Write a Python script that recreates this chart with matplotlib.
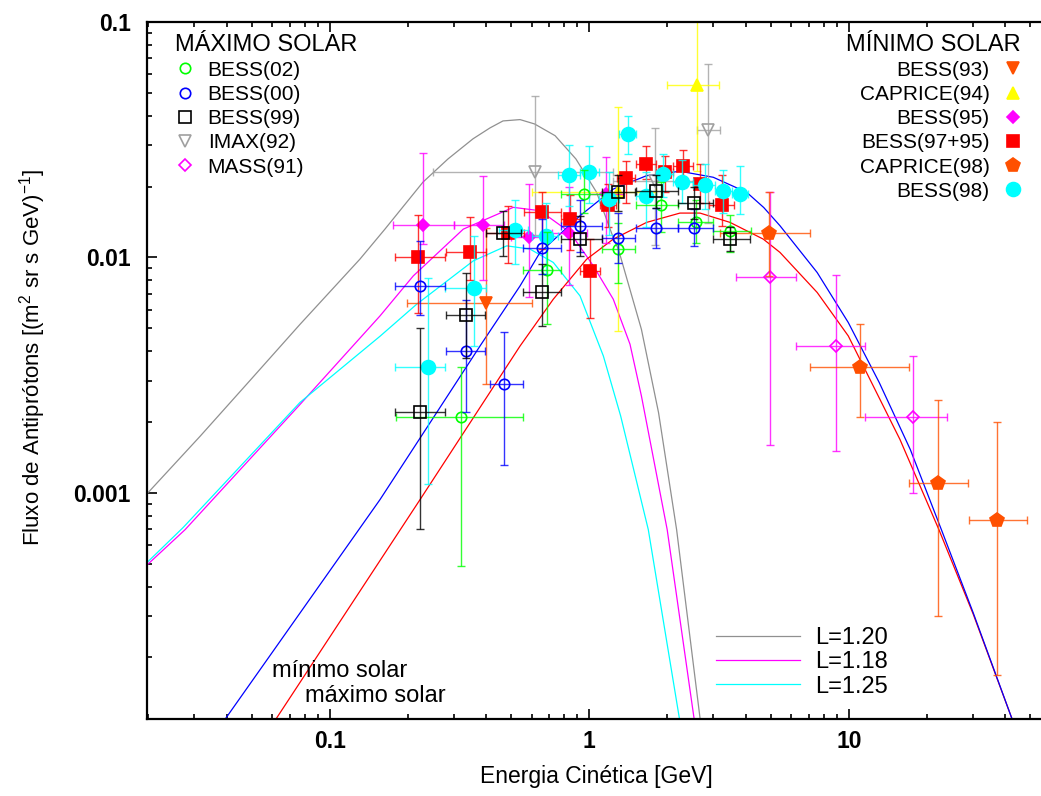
import numpy as np
import matplotlib
matplotlib.use('Agg')
import matplotlib.pyplot as plt
from matplotlib.lines import Line2D
from matplotlib.ticker import LogLocator, NullFormatter

plt.rcParams['font.family'] = ['Liberation Sans', 'DejaVu Sans']
plt.rcParams['mathtext.fontset'] = 'custom'
plt.rcParams['mathtext.rm'] = 'Liberation Sans'
plt.rcParams['mathtext.it'] = 'Liberation Sans:italic'

W, H = 1041, 796

# ---- model curves (E in GeV, flux) ----
l120_E = [0.0199, 0.0316, 0.0493, 0.0768, 0.1307, 0.1632, 0.2287, 0.2854, 0.3563, 0.4144, 0.465,
          0.541, 0.615, 0.738, 0.888, 1.067, 1.243, 1.294, 1.588, 1.849, 2.17, 2.671, 2.72]
l120_F = [0.00100, 0.001737, 0.003005, 0.0052, 0.00984, 0.0132, 0.0209, 0.0262, 0.0319, 0.0355, 0.0380,
          0.0385, 0.0369, 0.0329, 0.0262, 0.0189, 0.01196, 0.01085, 0.00495, 0.00219, 0.000698,
          0.0001106, 0.000094]

l118_E = [0.0198, 0.0277, 0.0768, 0.1561, 0.2098, 0.3269, 0.5095, 0.6457, 0.8425, 1.036, 1.237,
          1.435, 1.588, 1.996, 2.532, 2.577]
l118_F = [0.000495, 0.000698, 0.002375, 0.005643, 0.008349, 0.01319, 0.01632, 0.01579, 0.01278, 0.00921,
          0.006647, 0.00428, 0.00258, 0.000698, 0.0001106, 0.000094]

l125_E = [0.0198, 0.0272, 0.0768, 0.1561, 0.2162, 0.3573, 0.4806, 0.5907, 0.7266, 0.921, 1.133,
          1.321, 1.688, 2.223, 2.256]
l125_F = [0.000507, 0.000712, 0.002423, 0.004625, 0.006328, 0.00967, 0.0112, 0.01085, 0.00952, 0.006864,
          0.003813, 0.00212, 0.000698, 0.0001106, 0.000094]

min_E = [0.0358, 0.0398, 0.1561, 0.3792, 0.541, 0.6457, 0.921, 1.237, 1.664, 2.236, 3.005, 4.043,
         4.7, 5.432, 7.553, 9.956, 13.11, 17.26, 22.74, 30.18, 42.44, 44.5]
min_F = [0.000094, 0.0001106, 0.000936, 0.004205, 0.007568, 0.0105, 0.01503, 0.01952, 0.02225, 0.02323,
         0.0219, 0.0189, 0.0163, 0.01363, 0.00863, 0.00529, 0.002938, 0.001528, 0.000698, 0.000309,
         0.0001106, 0.000094]

max_E = [0.0565, 0.0624, 0.2227, 0.541, 0.7266, 0.977, 1.237, 1.664, 2.236, 2.671, 3.485, 4.683,
         5.432, 7.553, 9.956, 15.75, 22.25, 30.18, 42.44, 44.5]
max_F = [0.000094, 0.0001106, 0.000936, 0.004205, 0.006647, 0.00983, 0.01196, 0.01409, 0.01543, 0.01543,
         0.01409, 0.01196, 0.0105, 0.0071, 0.00464, 0.001685, 0.000698, 0.000305, 0.0001106, 0.000094]

# ---- solar maximum data ----
bess02_E = [0.32, 0.69, 0.955, 1.29, 1.89, 2.57, 3.48]
bess02_F = [0.0021, 0.0088, 0.0186, 0.0109, 0.0167, 0.0142, 0.0129]
bess02_Elo = [0.18, 0.556, 0.78, 1.12, 1.52, 2.2, 3.0]
bess02_Ehi = [0.557, 0.78, 1.12, 1.5, 2.2, 3.0, 4.2]
bess02_Flo = [0.00049, 0.0052, 0.0155, 0.0078, 0.0128, 0.0115, 0.0105]
bess02_Fhi = [0.00344, 0.0128, 0.0235, 0.014, 0.021, 0.0175, 0.0152]

bess00_E = [0.222, 0.334, 0.47, 0.66, 0.92, 1.29, 1.81, 2.53]
bess00_F = [0.00753, 0.00401, 0.00291, 0.0110, 0.0136, 0.0121, 0.0134, 0.0134]
bess00_Elo = [0.179, 0.28, 0.414, 0.557, 0.78, 1.12, 1.52, 2.2]
bess00_Ehi = [0.279, 0.398, 0.557, 0.78, 1.12, 1.5, 2.2, 3.0]
bess00_Flo = [0.0057, 0.00221, 0.00131, 0.0085, 0.0105, 0.0095, 0.011, 0.0112]
bess00_Fhi = [0.0117, 0.0066, 0.0048, 0.0145, 0.0175, 0.0155, 0.0162, 0.016]

bess99_E = [0.222, 0.334, 0.466, 0.66, 0.92, 1.29, 1.81, 2.53, 3.5]
bess99_F = [0.0022, 0.0057, 0.01265, 0.0071, 0.0120, 0.0189, 0.0191, 0.017, 0.012]
bess99_Elo = [0.179, 0.28, 0.40, 0.557, 0.78, 1.12, 1.52, 2.2, 3.0]
bess99_Ehi = [0.279, 0.398, 0.545, 0.78, 1.12, 1.5, 2.2, 3.0, 4.17]
bess99_Flo = [0.0007, 0.00373, 0.0101, 0.0051, 0.0101, 0.0158, 0.0162, 0.0145, 0.0106]
bess99_Fhi = [0.005, 0.0086, 0.0158, 0.0094, 0.015, 0.0225, 0.0225, 0.02, 0.0135]

imax_E = [0.618, 1.79, 2.87]
imax_F = [0.023, 0.0212, 0.0349]
imax_Elo = [0.249, 1.23, 2.6]
imax_Ehi = [1.23, 2.6, 3.18]
imax_Flo = [0.0125, 0.0113, 0.014]
imax_Fhi = [0.0487, 0.0354, 0.0664]

mass_E = [4.97, 8.89, 17.7]
mass_F = [0.00822, 0.00422, 0.0021]
mass_Elo = [3.69, 6.27, 11.5]
mass_Ehi = [6.25, 11.5, 23.9]
mass_Flo = [0.0016, 0.0015, 0.001]
mass_Fhi = [0.0189, 0.00843, 0.00381]

# ---- solar minimum data ----
bess93_E = [0.399]
bess93_F = [0.00639]
bess93_Elo = [0.199]
bess93_Ehi = [0.60]
bess93_Flo = [0.00291]
bess93_Fhi = [0.0134]

cap94_E = [1.29, 2.59]
cap94_F = [0.019, 0.0541]
cap94_Elo = [0.60, 2.0]
cap94_Ehi = [1.8, 3.17]
cap94_Flo = [0.00487, 0.0234]
cap94_Fhi = [0.0435, 0.12]

bess95_E = [0.229, 0.388, 0.587, 0.837, 1.16]
bess95_F = [0.01372, 0.01372, 0.01216, 0.01265, 0.0186]
bess95_Elo = [0.175, 0.30, 0.50, 0.72, 1.0]
bess95_Ehi = [0.30, 0.47, 0.69, 0.98, 1.35]
bess95_Flo = [0.0114, 0.008, 0.0068, 0.0076, 0.0115]
bess95_Fhi = [0.0278, 0.0221, 0.0205, 0.020, 0.0266]

bess9795_E = [0.219, 0.347, 0.488, 0.659, 0.843, 1.006, 1.18, 1.39, 1.65, 1.95, 2.30, 2.67, 3.24]
bess9795_F = [0.010, 0.0105, 0.01265, 0.01563, 0.01456, 0.00872, 0.01665, 0.0217, 0.0249, 0.023,
              0.0244, 0.0205, 0.01675]
bess9795_Elo = [0.179, 0.28, 0.40, 0.56, 0.78, 0.92, 1.1, 1.28, 1.52, 1.8, 2.1, 2.5, 2.9]
bess9795_Ehi = [0.278, 0.40, 0.56, 0.78, 0.92, 1.1, 1.27, 1.5, 1.8, 2.1, 2.5, 2.9, 3.6]
bess9795_Flo = [0.00583, 0.008, 0.0095, 0.0109, 0.0108, 0.00555, 0.0135, 0.017, 0.0216, 0.019,
                0.020, 0.017, 0.0136]
bess9795_Fhi = [0.0152, 0.0148, 0.0166, 0.0189, 0.0185, 0.012, 0.0205, 0.0258, 0.0297, 0.027,
                0.0287, 0.025, 0.0224]

cap98_E = [4.94, 11.0, 22.0, 37.1]
cap98_F = [0.0127, 0.00342, 0.0011, 0.00077]
cap98_Elo = [3.2, 7.1, 17.1, 29.1]
cap98_Ehi = [7.1, 17.0, 28.8, 48.7]
cap98_Flo = [0.0083, 0.00211, 0.0003, 0.000169]
cap98_Fhi = [0.019, 0.0052, 0.00249, 0.002]

bess98_E = [0.24, 0.36, 0.517, 0.679, 0.837, 1.0, 1.19, 1.41, 1.66, 1.93, 2.27, 2.79, 3.28, 3.81]
bess98_F = [0.00342, 0.00745, 0.01311, 0.01236, 0.0223, 0.0231, 0.0177, 0.0335, 0.0183, 0.0226,
            0.021, 0.0203, 0.0191, 0.0186]
bess98_Elo = [0.179, 0.279, 0.45, 0.6, 0.76, 0.92, 1.09, 1.3, 1.52, 1.8, 2.1, 2.5, 3.05, 3.55]
bess98_Ehi = [0.279, 0.40, 0.58, 0.76, 0.92, 1.09, 1.3, 1.52, 1.8, 2.1, 2.5, 3.05, 3.55, 4.1]
bess98_Flo = [0.00109, 0.0042, 0.0094, 0.0085, 0.0165, 0.017, 0.0125, 0.0276, 0.0135, 0.018,
              0.017, 0.016, 0.0155, 0.0153]
bess98_Fhi = [0.0082, 0.0123, 0.0176, 0.017, 0.0299, 0.0297, 0.023, 0.040, 0.023, 0.0275,
              0.026, 0.025, 0.0235, 0.0245]

fig = plt.figure(figsize=(W / 100, H / 100), dpi=100)
ax = fig.add_axes([147.3 / W, 1 - 719 / H, (W - 147.3) / W, (719 - 22) / H])
ax.set_xscale('log')
ax.set_yscale('log')

# curves
ax.plot(l120_E, l120_F, color='#909090', lw=0.9)
ax.plot(l118_E, l118_F, color='#ff00ff', lw=0.9)
ax.plot(l125_E, l125_F, color='#00ffff', lw=0.9)
ax.plot(max_E, max_F, color='#ff0000', lw=0.9)
ax.plot(min_E, min_F, color='#0000ff', lw=0.9)


def draw(E, F, Elo, Ehi, Flo, Fhi, color, marker, ms, filled):
    E, F = np.array(E), np.array(F)
    xerr = [E - np.array(Elo), np.array(Ehi) - E]
    yerr = [F - np.array(Flo), np.array(Fhi) - F]
    ax.errorbar(E, F, xerr=xerr, yerr=yerr, fmt='none', ecolor=color,
                elinewidth=1.0, capsize=3, capthick=1.0, alpha=0.8)
    ax.plot(E, F, ls='none', marker=marker, ms=ms, mec=color,
            mfc=color if filled else 'none', mew=1.2)


draw(imax_E, imax_F, imax_Elo, imax_Ehi, imax_Flo, imax_Fhi, '#a0a0a0', 'v', 9, False)
draw(mass_E, mass_F, mass_Elo, mass_Ehi, mass_Flo, mass_Fhi, '#ff00ff', 'D', 6.5, False)
draw(bess93_E, bess93_F, bess93_Elo, bess93_Ehi, bess93_Flo, bess93_Fhi, '#ff5000', 'v', 9, True)
draw(cap94_E, cap94_F, cap94_Elo, cap94_Ehi, cap94_Flo, cap94_Fhi, '#ffff00', '^', 9, True)
draw(bess95_E, bess95_F, bess95_Elo, bess95_Ehi, bess95_Flo, bess95_Fhi, '#ff00ff', 'D', 6.5, True)
draw(bess9795_E, bess9795_F, bess9795_Elo, bess9795_Ehi, bess9795_Flo, bess9795_Fhi, '#ff0000', 's', 9, True)
draw(cap98_E, cap98_F, cap98_Elo, cap98_Ehi, cap98_Flo, cap98_Fhi, '#ff5000', 'p', 10, True)
draw(bess98_E, bess98_F, bess98_Elo, bess98_Ehi, bess98_Flo, bess98_Fhi, '#00ffff', 'o', 10, True)
draw(bess02_E, bess02_F, bess02_Elo, bess02_Ehi, bess02_Flo, bess02_Fhi, '#00ff00', 'o', 7.5, False)
draw(bess00_E, bess00_F, bess00_Elo, bess00_Ehi, bess00_Flo, bess00_Fhi, '#0000ff', 'o', 7.5, False)
draw(bess99_E, bess99_F, bess99_Elo, bess99_Ehi, bess99_Flo, bess99_Fhi, '#000000', 's', 8, False)

ax.set_xlim(0.0198, 55.05)
ax.set_ylim(1.095e-4, 0.1)

ax.set_xticks([0.1, 1, 10], labels=['0.1', '1', '10'], fontsize=16.5, fontweight='bold')
ax.set_yticks([0.001, 0.01, 0.1], labels=['0.001', '0.01', '0.1'], fontsize=16.5, fontweight='bold')
ax.xaxis.set_minor_locator(LogLocator(base=10, subs=np.arange(2, 10), numticks=20))
ax.yaxis.set_minor_locator(LogLocator(base=10, subs=np.arange(2, 10), numticks=20))
ax.xaxis.set_minor_formatter(NullFormatter())
ax.yaxis.set_minor_formatter(NullFormatter())
ax.tick_params(which='both', direction='in', top=True, right=False, width=1.2)
ax.tick_params(which='major', length=7)
ax.tick_params(which='minor', length=3.6)
ax.tick_params(axis='x', which='major', pad=8)
ax.tick_params(axis='y', which='major', pad=12)
for side in ['left', 'bottom', 'top']:
    ax.spines[side].set_linewidth(1.6)
ax.spines['right'].set_visible(False)

fig.text(596 / W, 1 - 777 / H, 'Energia Cinética [GeV]', fontsize=16.5, ha='center', va='center')
fig.text(33 / W, 1 - 357 / H, 'Fluxo de Antiprótons [(m$^{2}$ sr s GeV)$^{-1}$]',
         fontsize=16, rotation=90, ha='center', va='center')


def fx(px):
    return px / W


def fy(py):
    return 1 - py / H


# legend: solar maximum (left)
fig.text(fx(175), fy(50.8), 'MÁXIMO SOLAR', fontsize=17, ha='left', va='baseline')
left_rows = [('BESS(02)', '#00ff00', 'o', 7.5, False),
             ('BESS(00)', '#0000ff', 'o', 7.5, False),
             ('BESS(99)', '#000000', 's', 8, False),
             ('IMAX(92)', '#a0a0a0', 'v', 9, False),
             ('MASS(91)', '#ff00ff', 'D', 6.5, False)]
for i, (lab, c, m, s, f) in enumerate(left_rows):
    yy = 68.3 + 24.2 * i
    fig.add_artist(Line2D([fx(185)], [fy(yy)], marker=m, ms=s, mec=c, mfc=c if f else 'none',
                          mew=1.2, ls='none', transform=fig.transFigure))
    fig.text(fx(207.7), fy(yy + 7.5), lab, fontsize=15, ha='left', va='baseline')

# legend: solar minimum (right)
fig.text(fx(1021), fy(50.8), 'MÍNIMO SOLAR', fontsize=17, ha='right', va='baseline')
right_rows = [('BESS(93)', '#ff5000', 'v', 9, True),
              ('CAPRICE(94)', '#ffff00', '^', 9, True),
              ('BESS(95)', '#ff00ff', 'D', 6.5, True),
              ('BESS(97+95)', '#ff0000', 's', 9, True),
              ('CAPRICE(98)', '#ff5000', 'p', 10, True),
              ('BESS(98)', '#00ffff', 'o', 10, True)]
for i, (lab, c, m, s, f) in enumerate(right_rows):
    yy = 68.3 + 24.2 * i
    fig.add_artist(Line2D([fx(1013)], [fy(yy)], marker=m, ms=s, mec=c, mfc=c,
                          mew=1.2, ls='none', transform=fig.transFigure))
    fig.text(fx(989.7), fy(yy + 7.5), lab, fontsize=15, ha='right', va='baseline')

# legend: curves
curve_rows = [('L=1.20', '#909090'), ('L=1.18', '#ff00ff'), ('L=1.25', '#00ffff')]
for i, (lab, c) in enumerate(curve_rows):
    yy = 635.7 + 24.2 * i
    fig.add_artist(Line2D([fx(716), fx(800)], [fy(yy), fy(yy)], color=c, lw=0.9,
                          transform=fig.transFigure))
    fig.text(fx(815), fy(yy + 8.5), lab, fontsize=17, ha='left', va='baseline')

fig.text(fx(271.7), fy(676.7), 'mínimo solar', fontsize=17, ha='left', va='baseline')
fig.text(fx(305), fy(702.3), 'máximo solar', fontsize=17, ha='left', va='baseline')

fig.savefig('out.png', dpi=100)
